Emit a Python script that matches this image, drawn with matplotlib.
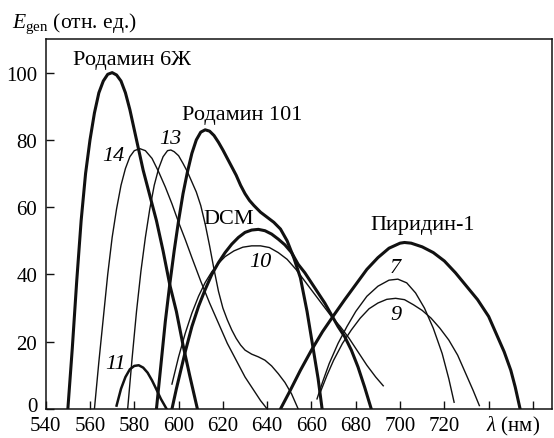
import matplotlib
matplotlib.use("Agg")
import matplotlib.pyplot as plt
import matplotlib.transforms as mtransforms

plt.rcParams['font.family'] = ['Liberation Serif', 'DejaVu Serif']
plt.rcParams['mathtext.fontset'] = 'custom'
plt.rcParams['mathtext.rm'] = 'Liberation Serif'
plt.rcParams['mathtext.it'] = 'Liberation Serif:italic'

# --- data (wavelength in nm, energy in rel. units) ---
r6g_x = [550, 552, 554, 556, 558, 560, 562, 564, 566, 568, 570, 572, 574, 576,
         578, 580, 582, 584, 587, 590, 593, 596, 599, 602, 605, 608.5]
r6g_y = [0, 18, 38, 56, 70, 80, 88, 94, 97.5, 99.5, 100, 99.3, 97.5, 94,
         89, 83, 77, 71, 63.5, 56, 47, 37, 29, 19, 10, 0]

c14_x = [562, 564, 566, 568, 570, 572, 574, 576, 578, 580, 582.5, 585, 588, 591,
         594, 597, 600, 603, 606, 610, 614, 618, 622, 626, 630, 634, 637, 640]
c14_y = [0, 14, 27, 40, 51, 59.5, 66.5, 71.5, 75, 76.8, 77.4, 76.8, 74.5, 70.5,
         66, 61, 55.5, 50.4, 45, 38, 31.5, 25.5, 19.5, 14.5, 9.5, 5.5, 2.5, 0]

c13_x = [577, 579, 581, 583, 585, 587, 589, 591, 593, 595, 596.5, 598, 600, 602,
         604, 606, 608, 610, 612, 614, 616, 618, 620, 622, 624, 626, 628, 630,
         633, 636, 639, 642, 645, 648, 651, 654]
c13_y = [0, 15, 29, 41, 51, 59.5, 66.5, 71.5, 75, 76.8, 77, 76.5, 75.3, 73,
         70.5, 67.5, 64.5, 60.5, 55, 48.5, 41.5, 35, 30, 26.5, 23.5, 21, 19, 17.5,
         16.3, 15.5, 14.5, 12.8, 10.5, 7.9, 4.5, 0]

c11_x = [572, 574, 576, 578, 580, 582, 584, 586, 588, 590, 592, 594.6]
c11_y = [1, 6, 9.5, 11.8, 12.8, 13, 12.3, 10.8, 8.5, 5.8, 3, 0]

r101_x = [590, 592, 594, 596, 598, 600, 602, 604, 606, 608, 610, 612, 614, 616,
          618, 620, 622, 624, 626, 628, 630, 632, 634, 637, 640, 643, 646, 649,
          652, 655, 658, 661, 663, 664.8]
r101_y = [0, 13, 26, 37, 47, 56, 64, 70.5, 76, 80, 82.3, 83, 82.6, 81.3,
          79.3, 77, 74.5, 72, 69.5, 66.5, 64, 62, 60.5, 58.5, 57, 55.5, 53.5, 50,
          45, 39, 29, 17, 9, 0]

dcm_x = [597, 599, 601, 603, 606, 609, 612, 615, 618, 621, 624, 627, 630, 633,
         636, 639, 642, 645, 648, 651, 654, 657, 660, 663, 666, 669, 672, 675,
         678, 681, 684, 687]
dcm_y = [0, 6, 11.5, 17, 24.5, 30.5, 35.5, 40, 43.5, 46.5, 49, 51, 52.5, 53.2,
         53.4, 53, 52, 50.5, 48.8, 46.5, 43, 40.5, 37.5, 34.5, 31.5, 28, 24.5, 21.5,
         17.5, 12.5, 6.5, 0]

c10_x = [597, 600, 603, 606, 609, 612, 615, 618, 621, 625, 629, 633, 637, 641,
         645, 649, 653, 657, 661, 665, 669, 673, 677, 681, 685, 689, 692.4]
c10_y = [7.4, 15.5, 22.5, 28.5, 33.5, 37.6, 40.8, 43.3, 45.3, 47, 48.1, 48.5, 48.5, 48,
         46.5, 44.5, 41.5, 38, 34.5, 31, 27.5, 24.5, 21, 17, 13, 9.5, 6.9]

pyr_x = [646, 650, 655, 660, 665, 670, 675, 680, 685, 690, 695, 700, 702, 705,
         710, 715, 720, 725, 730, 735, 740, 744, 747, 750, 752, 754.2]
pyr_y = [0, 5, 11.5, 17.5, 23, 27.8, 32.5, 37, 41.5, 45, 47.8, 49.3, 49.5, 49.3,
         48.2, 46.5, 44, 40.5, 36.5, 32.5, 27.5, 21.5, 17, 11.5, 6.5, 0]

c7_x = [662.5, 665, 668, 672, 676, 680, 685, 690, 695, 699, 703, 707, 711, 715,
        719, 722, 724.4]
c7_y = [3, 8, 13.5, 19.5, 24.5, 29, 33.5, 36.5, 38.3, 38.6, 37.5, 34.5, 30, 24,
        16.5, 9, 2]

c9_x = [664, 667, 670, 674, 678, 682, 686, 690, 694, 698, 702, 706, 710, 714,
        718, 722, 726, 730, 733, 735.8]
c9_y = [5, 10, 14.5, 19.5, 23.5, 27, 29.8, 31.5, 32.6, 32.9, 32.5, 31, 29.3, 27,
        24, 20.5, 16, 10, 5.5, 1]

x_ticks = [540, 560, 580, 600, 620, 640, 660, 680, 700, 720, 740, 760]
x_labels = ['540', '560', '580', '600', '620', '640', '660', '680', '700', '720', '', '']
y_ticks = [0, 20, 40, 60, 80, 100]

thick = 2.2
thin = 1.0
col = '#111111'

fig = plt.figure(figsize=(5.54, 4.39), dpi=100)
ax = fig.add_axes([0.0825, 0.0661, 0.9139, 0.8428])

ax.plot(r6g_x, r6g_y, color=col, lw=thick)
ax.plot(r101_x, r101_y, color=col, lw=thick)
ax.plot(dcm_x, dcm_y, color=col, lw=thick)
ax.plot(pyr_x, pyr_y, color=col, lw=thick)
ax.plot(c11_x, c11_y, color=col, lw=1.8)
ax.plot(c14_x, c14_y, color=col, lw=thin)
ax.plot(c13_x, c13_y, color=col, lw=thin)
ax.plot(c10_x, c10_y, color=col, lw=thin)
ax.plot(c7_x, c7_y, color=col, lw=thin)
ax.plot(c9_x, c9_y, color=col, lw=thin)

ax.set_xlim(540, 768.6)
ax.set_ylim(0, 110)
ax.set_xticks(x_ticks)
ax.set_xticklabels(x_labels)
ax.set_yticks(y_ticks)
ax.tick_params(direction='in', length=6, width=1.0, labelsize=15, color=col)
ax.tick_params(axis='x', pad=5)
ax.tick_params(axis='y', pad=6)
for s in ax.spines.values():
    s.set_linewidth(1.1)
    s.set_color(col)

# lift the "0" label a little, as in the original, so it clears "540"
lbl0 = ax.get_yticklabels()[0]
lbl0.set_transform(lbl0.get_transform() +
                   mtransforms.ScaledTranslation(0, 5 / 100, fig.dpi_scale_trans))

fs = 16
ax.text(552.2, 103.9, 'Родамин 6Ж', fontsize=fs, ha='left', va='center')
ax.text(601.4, 87.5, 'Родамин 101', fontsize=fs, ha='left', va='center')
ax.text(622.4, 56.6, 'DCM', fontsize=fs, ha='center', va='center')
ax.text(710.1, 54.9, 'Пиридин-1', fontsize=fs, ha='center', va='center')
ax.text(570.6, 75.5, '14', fontsize=fs, style='italic', ha='center', va='center')
ax.text(596.2, 80.4, '13', fontsize=fs, style='italic', ha='center', va='center')
ax.text(571.7, 13.4, '11', fontsize=fs, style='italic', ha='center', va='center')
ax.text(636.8, 43.7, '10', fontsize=fs, style='italic', ha='center', va='center')
ax.text(697.7, 42.0, '7', fontsize=fs, style='italic', ha='center', va='center')
ax.text(698.2, 28.2, '9', fontsize=fs, style='italic', ha='center', va='center')
ax.text(739, -1.6, r'$\lambda$ (нм)', fontsize=15, ha='left', va='top')

fig.text(12 / 554, 1 - 28 / 439, r'$E_{\rm gen}$ (отн. ед.)', fontsize=15.5,
         ha='left', va='baseline')

fig.savefig('out.png', dpi=100)
